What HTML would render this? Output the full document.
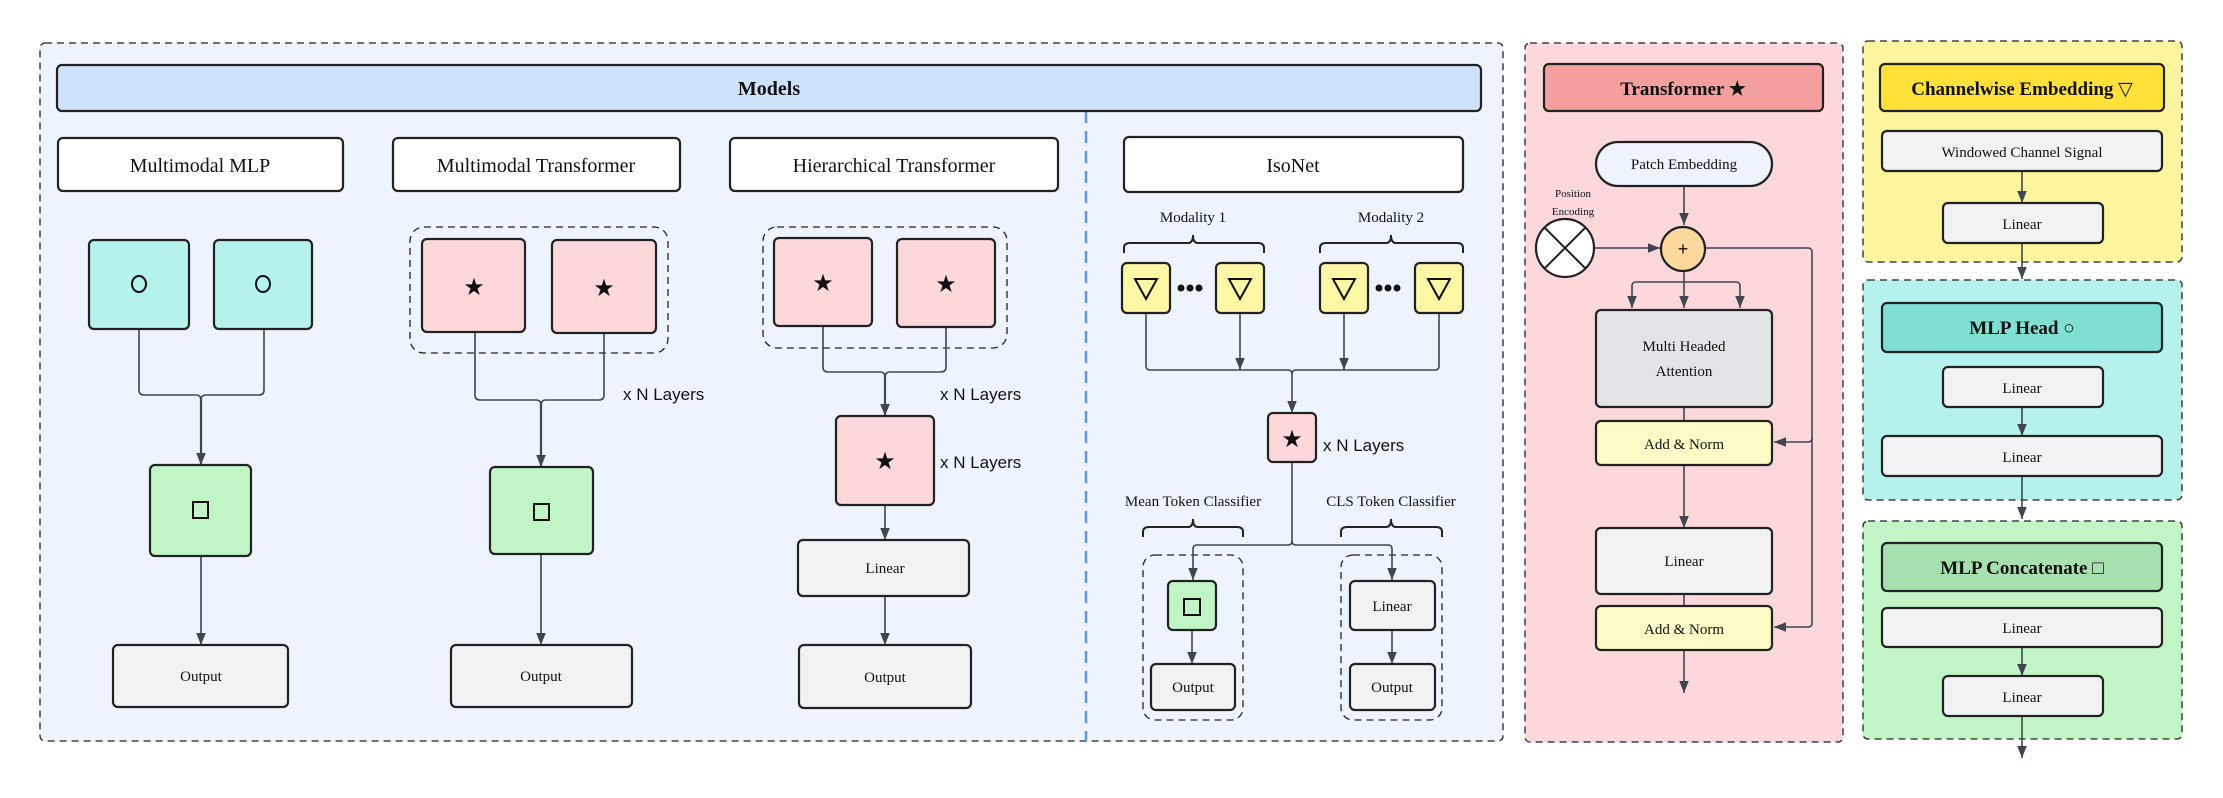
<!DOCTYPE html>
<html><head><meta charset="utf-8"><style>
html,body{margin:0;padding:0;background:#fff;}
svg{display:block;}
text{font-family:"Liberation Serif","DejaVu Serif",serif;fill:#111;}
.s{font-family:"Liberation Sans","DejaVu Sans",sans-serif;}
</style></head><body>
<svg width="2223" height="798" viewBox="0 0 2223 798" xmlns="http://www.w3.org/2000/svg">
<defs>
<marker id="a" viewBox="0 0 10 10" refX="10" refY="5" markerWidth="12" markerHeight="12" orient="auto-start-reverse" markerUnits="userSpaceOnUse"><path d="M0,1 L10,5 L0,9 z" fill="#3f4650"/></marker>
</defs>
<g stroke="#222" stroke-width="1.3">
<rect x="40" y="43" width="1463" height="698" rx="5" fill="#edf4fe" stroke-dasharray="7,5"/>
<rect x="1525" y="43" width="318" height="699" rx="5" fill="#fdd8da" stroke-dasharray="7,5"/>
<rect x="1863" y="41" width="319" height="221" rx="5" fill="#fdf59d" stroke-dasharray="7,5"/>
<rect x="1863" y="280" width="319" height="220" rx="5" fill="#b5f2ec" stroke-dasharray="7,5"/>
<rect x="1863" y="521" width="319" height="218" rx="5" fill="#c2f5c6" stroke-dasharray="7,5"/>
</g>
<line x1="1086" y1="111" x2="1086" y2="741" stroke="#5a9be8" stroke-width="2.5" stroke-dasharray="12,8"/>
<g stroke="#222" stroke-width="2.2">
<rect x="57" y="65" width="1424" height="46" rx="5" fill="#cfe2fb"/>
<rect x="58" y="138" width="285" height="53" rx="5" fill="#fff"/>
<rect x="393" y="138" width="287" height="53" rx="5" fill="#fff"/>
<rect x="730" y="138" width="328" height="53" rx="5" fill="#fff"/>
<rect x="1124" y="137" width="339" height="55" rx="5" fill="#fff"/>
</g>
<g font-size="20" text-anchor="middle">
<text x="769" y="95" font-weight="bold">Models</text>
<text x="200" y="172">Multimodal  MLP</text>
<text x="536" y="172">Multimodal Transformer</text>
<text x="894" y="172">Hierarchical Transformer</text>
<text x="1293" y="172">IsoNet</text>
</g>
<g fill="none" stroke="#222" stroke-width="1.3" stroke-dasharray="7,5">
<rect x="410" y="227" width="258" height="126" rx="14"/>
<rect x="763" y="227" width="244" height="121" rx="14"/>
<rect x="1143" y="555" width="100" height="165" rx="12"/>
<rect x="1341" y="555" width="101" height="165" rx="12"/>
</g>
<g fill="none" stroke="#3f4650" stroke-width="1.6">
<path d="M139,329 V390 q0,5 5,5 H196 q5,0 5,5 M264,329 V390 q0,5 -5,5 H206 q-5,0 -5,5"/>
<path d="M201,397 V465" stroke-width="2.2" marker-end="url(#a)"/>
<path d="M201,556 V645" marker-end="url(#a)"/>
<path d="M475,332 V395 q0,5 5,5 H536 q5,0 5,5 M604,333 V395 q0,5 -5,5 H546 q-5,0 -5,5"/>
<path d="M541,402 V467" stroke-width="2.2" marker-end="url(#a)"/>
<path d="M541,554 V645" marker-end="url(#a)"/>
<path d="M823,326 V367 q0,5 5,5 H880 q5,0 5,5 M946,327 V367 q0,5 -5,5 H890 q-5,0 -5,5"/>
<path d="M885,374 V416" stroke-width="2.2" marker-end="url(#a)"/>
<path d="M885,505 V540" marker-end="url(#a)"/>
<path d="M885,596 V645" marker-end="url(#a)"/>
<path d="M1146,313 V366 q0,4 4,4 H1288 q4,0 4,4 M1439,313 V366 q0,4 -4,4 H1296 q-4,0 -4,4"/>
<path d="M1240,313 V370" marker-end="url(#a)"/>
<path d="M1344,313 V370" marker-end="url(#a)"/>
<path d="M1292,374 V413" marker-end="url(#a)"/>
<path d="M1292,462 V541 q0,4 -4,4 H1197 q-4,0 -4,4 V580" marker-end="url(#a)"/>
<path d="M1292,541 q0,4 4,4 H1388 q4,0 4,4 V580" marker-end="url(#a)"/>
<path d="M1192,630 V664" marker-end="url(#a)"/>
<path d="M1392,630 V664" marker-end="url(#a)"/>
<path d="M1684,186 V225" marker-end="url(#a)"/>
<path d="M1594,248 H1660" marker-end="url(#a)"/>
<path d="M1705,248 H1808 q4,0 4,4 V623 q0,4 -4,4 H1774" marker-end="url(#a)"/>
<path d="M1812,438 q0,4 -4,4 H1774" marker-end="url(#a)"/>
<path d="M1684,271 V308" marker-end="url(#a)"/>
<path d="M1684,282 H1636 q-4,0 -4,4 V308" marker-end="url(#a)"/>
<path d="M1684,282 H1736 q4,0 4,4 V308" marker-end="url(#a)"/>
<path d="M1684,407 V421"/>
<path d="M1684,465 V528" marker-end="url(#a)"/>
<path d="M1684,594 V606"/>
<path d="M1684,650 V693" marker-end="url(#a)"/>
<path d="M2022,171 V203" marker-end="url(#a)"/>
<path d="M2022,243 V279" marker-end="url(#a)"/>
<path d="M2022,407 V436" marker-end="url(#a)"/>
<path d="M2022,476 V519" marker-end="url(#a)"/>
<path d="M2022,647 V676" marker-end="url(#a)"/>
<path d="M2022,716 V758" marker-end="url(#a)"/>
</g>
<g fill="none" stroke="#222" stroke-width="2">
<path d="M1124,253 V248 q0,-5 6,-5 H1188 q5,0 5,-8 q0,8 5,8 H1258 q6,0 6,5 V253"/>
<path d="M1320,253 V248 q0,-5 6,-5 H1386 q5,0 5,-8 q0,8 5,8 H1457 q6,0 6,5 V253"/>
<path d="M1143,537 V532 q0,-5 6,-5 H1188 q5,0 5,-8 q0,8 5,8 H1237 q6,0 6,5 V537"/>
<path d="M1341,537 V532 q0,-5 6,-5 H1386 q5,0 5,-8 q0,8 5,8 H1436 q6,0 6,5 V537"/>
</g>
<g stroke="#222" stroke-width="2.2">
<rect x="89" y="240" width="100" height="89" rx="5" fill="#b5f2ec"/>
<rect x="214" y="240" width="98" height="89" rx="5" fill="#b5f2ec"/>
<rect x="150" y="465" width="101" height="91" rx="5" fill="#c2f5c6"/>
<rect x="113" y="645" width="175" height="62" rx="5" fill="#f1f2f4"/>
<rect x="422" y="239" width="103" height="93" rx="5" fill="#fdd8da"/>
<rect x="552" y="240" width="104" height="93" rx="5" fill="#fdd8da"/>
<rect x="490" y="467" width="103" height="87" rx="5" fill="#c2f5c6"/>
<rect x="451" y="645" width="181" height="62" rx="5" fill="#f1f2f4"/>
<rect x="774" y="238" width="98" height="88" rx="5" fill="#fdd8da"/>
<rect x="897" y="239" width="98" height="88" rx="5" fill="#fdd8da"/>
<rect x="836" y="416" width="98" height="89" rx="5" fill="#fdd8da"/>
<rect x="798" y="540" width="171" height="56" rx="5" fill="#f1f2f4"/>
<rect x="799" y="645" width="172" height="63" rx="5" fill="#f1f2f4"/>
<rect x="1122" y="263" width="48" height="50" rx="5" fill="#fdf7a6"/>
<rect x="1216" y="263" width="48" height="50" rx="5" fill="#fdf7a6"/>
<rect x="1320" y="263" width="48" height="50" rx="5" fill="#fdf7a6"/>
<rect x="1415" y="263" width="48" height="50" rx="5" fill="#fdf7a6"/>
<rect x="1268" y="413" width="48" height="49" rx="5" fill="#fdd8da"/>
<rect x="1168" y="581" width="48" height="49" rx="5" fill="#c2f5c6"/>
<rect x="1151" y="664" width="84" height="46" rx="5" fill="#f1f2f4"/>
<rect x="1350" y="581" width="85" height="49" rx="5" fill="#f1f2f4"/>
<rect x="1350" y="664" width="85" height="46" rx="5" fill="#f1f2f4"/>
<rect x="1544" y="64" width="279" height="47" rx="5" fill="#f4a09e"/>
<rect x="1596" y="142" width="176" height="44" rx="22" fill="#edf4fe"/>
<circle cx="1565" cy="248" r="29" fill="#fff"/>
<circle cx="1683" cy="249" r="22" fill="#fdd9a0"/>
<rect x="1596" y="310" width="176" height="97" rx="5" fill="#e2e4e8"/>
<rect x="1596" y="421" width="176" height="44" rx="5" fill="#fdfbc6"/>
<rect x="1596" y="528" width="176" height="66" rx="5" fill="#f1f2f4"/>
<rect x="1596" y="606" width="176" height="44" rx="5" fill="#fdfbc6"/>
<rect x="1880" y="64" width="284" height="47" rx="5" fill="#ffe13a"/>
<rect x="1882" y="131" width="280" height="40" rx="5" fill="#f1f2f4"/>
<rect x="1943" y="203" width="160" height="40" rx="5" fill="#f1f2f4"/>
<rect x="1882" y="303" width="280" height="49" rx="5" fill="#7fe0d2"/>
<rect x="1943" y="367" width="160" height="40" rx="5" fill="#f1f2f4"/>
<rect x="1882" y="436" width="280" height="40" rx="5" fill="#f1f2f4"/>
<rect x="1882" y="543" width="280" height="48" rx="5" fill="#a8dfae"/>
<rect x="1882" y="608" width="280" height="39" rx="5" fill="#f1f2f4"/>
<rect x="1943" y="676" width="160" height="40" rx="5" fill="#f1f2f4"/>
</g>
<path d="M1545,228 L1585,268 M1585,228 L1545,268" stroke="#222" stroke-width="2"/>
<g fill="none" stroke="#111" stroke-width="2">
<ellipse cx="139" cy="284" rx="7" ry="8"/>
<ellipse cx="263" cy="284" rx="7" ry="8"/>
<rect x="193" y="502" width="15" height="16"/>
<rect x="534" y="504" width="15" height="16"/>
<rect x="1184" y="599" width="16" height="16"/>
<path d="M1135,279 h22 l-11,20 z M1229,279 h22 l-11,20 z M1333,279 h22 l-11,20 z M1428,279 h22 l-11,20 z"/>
</g>
<g fill="#111">
<circle cx="1181" cy="288" r="3.5"/><circle cx="1190" cy="288" r="3.5"/><circle cx="1199" cy="288" r="3.5"/>
<circle cx="1379" cy="288" r="3.5"/><circle cx="1388" cy="288" r="3.5"/><circle cx="1397" cy="288" r="3.5"/>
</g>
<g font-size="24" text-anchor="middle">
<text x="474" y="295" style="font-family:'DejaVu Sans'">★</text>
<text x="604" y="296" style="font-family:'DejaVu Sans'">★</text>
<text x="823" y="291" style="font-family:'DejaVu Sans'">★</text>
<text x="946" y="292" style="font-family:'DejaVu Sans'">★</text>
<text x="885" y="469" style="font-family:'DejaVu Sans'">★</text>
<text x="1292" y="447" style="font-family:'DejaVu Sans'">★</text>
</g>
<g font-size="17">
<text class="s" x="623" y="400">x N Layers</text>
<text class="s" x="940" y="400">x N Layers</text>
<text class="s" x="940" y="468">x N Layers</text>
<text class="s" x="1323" y="451">x N Layers</text>
</g>
<g font-size="15" text-anchor="middle">
<text x="201" y="681">Output</text>
<text x="541" y="681">Output</text>
<text x="885" y="573">Linear</text>
<text x="885" y="682">Output</text>
<text x="1193" y="222">Modality 1</text>
<text x="1391" y="222">Modality 2</text>
<text x="1193" y="506">Mean Token Classifier</text>
<text x="1391" y="506">CLS Token Classifier</text>
<text x="1193" y="692">Output</text>
<text x="1392" y="611">Linear</text>
<text x="1392" y="692">Output</text>
<text x="1684" y="169">Patch Embedding</text>
<text x="1684" y="351">Multi Headed</text>
<text x="1684" y="376">Attention</text>
<text x="1684" y="449">Add &amp; Norm</text>
<text x="1684" y="566">Linear</text>
<text x="1684" y="634">Add &amp; Norm</text>
<text x="2022" y="157">Windowed Channel Signal</text>
<text x="2022" y="229">Linear</text>
<text x="2022" y="393">Linear</text>
<text x="2022" y="462">Linear</text>
<text x="2022" y="633">Linear</text>
<text x="2022" y="702">Linear</text>
</g>
<g font-size="11" text-anchor="middle">
<text x="1573" y="197">Position</text>
<text x="1573" y="215">Encoding</text>
</g>
<text x="1683" y="255" font-size="18" text-anchor="middle" class="s">+</text>
<g font-size="19" font-weight="bold" text-anchor="middle">
<text x="1683" y="95">Transformer ★</text>
<text x="2022" y="95">Channelwise Embedding ▽</text>
<text x="2022" y="334">MLP Head ○</text>
<text x="2022" y="574">MLP Concatenate □</text>
</g>
</svg>
</body></html>
